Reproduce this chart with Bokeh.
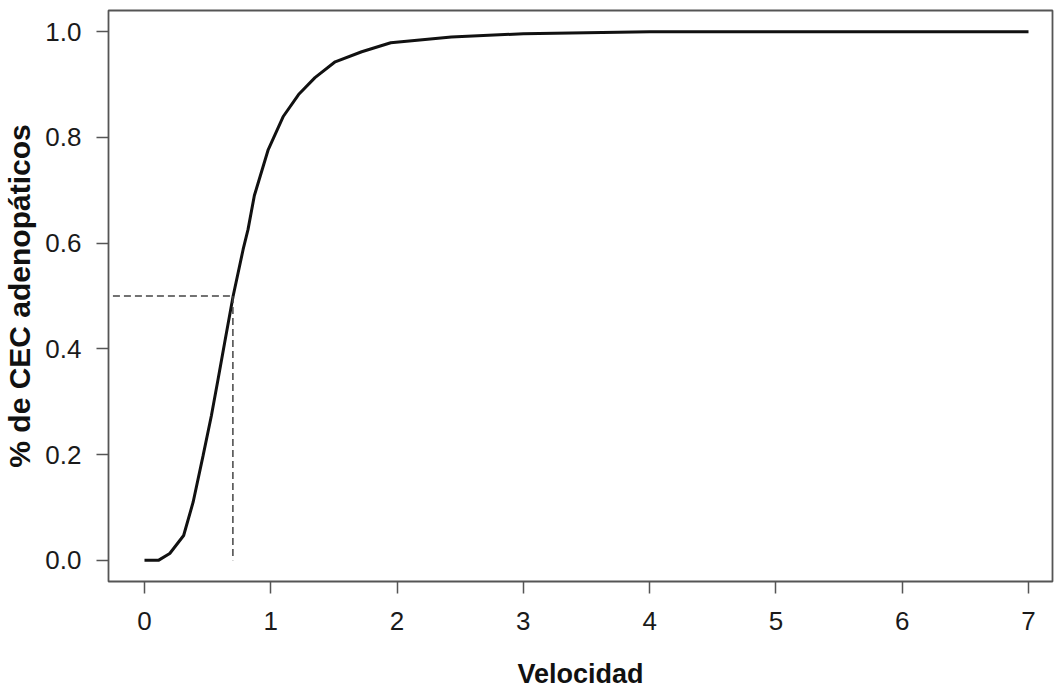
from bokeh.plotting import figure
from bokeh.embed import file_html
from bokeh.resources import INLINE
from bokeh.models import FixedTicker, Range1d

# Curve (velocity vs cumulative proportion)
velocidad = [0.0, 0.11, 0.2, 0.31, 0.385, 0.464, 0.53, 0.583, 0.635, 0.702, 0.781, 0.82,
             0.87, 0.98, 1.10, 1.22, 1.35, 1.51, 1.72, 1.95, 2.43, 3.0, 4.0, 7.0]
proporcion = [0.0, 0.0, 0.013, 0.047, 0.110, 0.198, 0.274, 0.343, 0.412, 0.500, 0.588, 0.626,
              0.69, 0.777, 0.84, 0.881, 0.913, 0.943, 0.962, 0.979, 0.99, 0.996, 1.0, 1.0]

# Median reference lines
mediana_x = 0.70
mediana_y = 0.5
h_start = -0.25

x_ticks = [0, 1, 2, 3, 4, 5, 6, 7]
y_ticks = [0.0, 0.2, 0.4, 0.6, 0.8, 1.0]
y_tick_labels = {0.0: "0.0", 0.2: "0.2", 0.4: "0.4", 0.6: "0.6", 0.8: "0.8", 1.0: "1.0"}

p = figure(width=1054, height=691, output_backend="svg", toolbar_location=None,
           x_range=Range1d(-0.285, 7.19), y_range=Range1d(-0.04, 1.04),
           min_border_left=107, min_border_right=2, min_border_top=10, min_border_bottom=108)

p.line(velocidad, proporcion, line_color="#111111", line_width=3)
p.line([h_start, mediana_x], [mediana_y, mediana_y], line_color="#444444", line_width=1.5, line_dash="7 4")
p.line([mediana_x, mediana_x], [mediana_y, 0.0], line_color="#444444", line_width=1.5, line_dash="7 4")

p.xgrid.visible = False
p.ygrid.visible = False
p.outline_line_color = "#555555"
p.outline_line_width = 1.8
p.background_fill_color = "white"
p.border_fill_color = "white"

font = "Liberation Sans"
for ax in (p.xaxis[0], p.yaxis[0]):
    ax.axis_line_color = None
    ax.major_tick_line_color = "#555555"
    ax.major_tick_line_width = 1.5
    ax.major_tick_out = 12
    ax.major_tick_in = 0
    ax.minor_tick_line_color = None
    ax.major_label_text_font = font
    ax.major_label_text_font_size = "26px"
    ax.major_label_text_color = "#1a1a1a"
    ax.axis_label_text_font = font
    ax.axis_label_text_font_style = "bold"
    ax.axis_label_text_color = "#111111"

p.xaxis.ticker = FixedTicker(ticks=x_ticks)
p.yaxis.ticker = FixedTicker(ticks=y_ticks)
p.yaxis.major_label_overrides = y_tick_labels
p.yaxis.major_label_orientation = "horizontal"
p.xaxis.axis_label = "Velocidad"
p.yaxis.axis_label = "% de CEC adenopáticos"
p.xaxis.axis_label_text_font_size = "27px"
p.yaxis.axis_label_text_font_size = "30px"
p.xaxis.major_label_standoff = 18
p.yaxis.major_label_standoff = 15
p.xaxis.axis_label_standoff = 26
p.yaxis.axis_label_standoff = 6

open("out.html", "w").write(file_html(p, INLINE))
